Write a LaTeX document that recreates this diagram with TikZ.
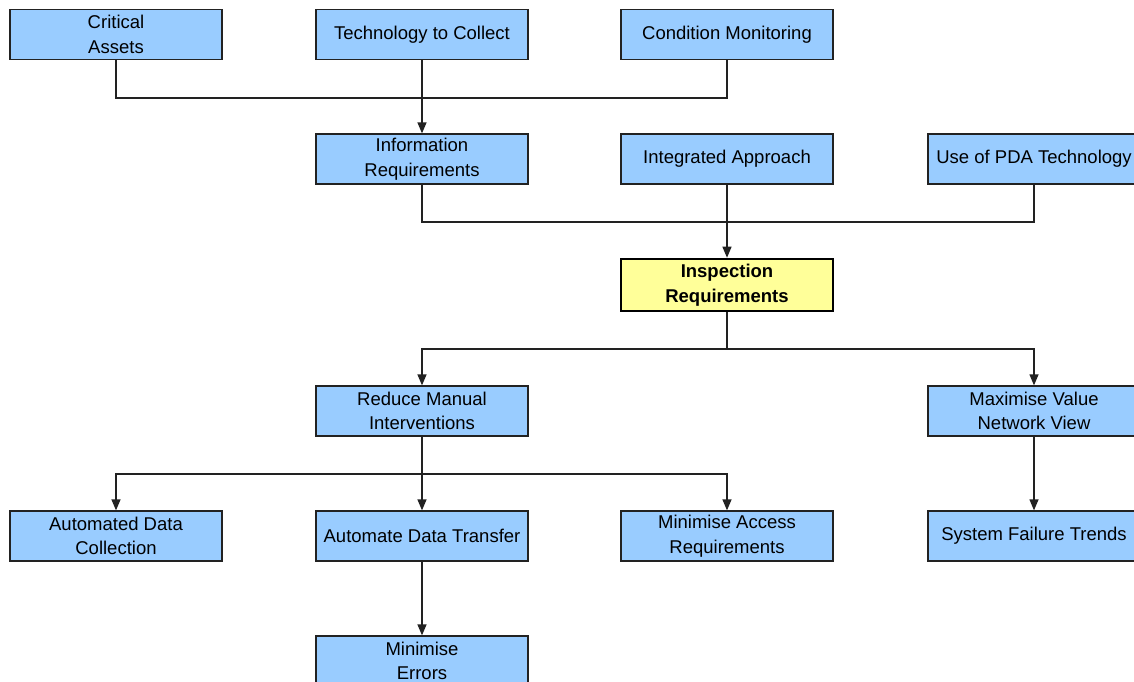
\documentclass[tikz,border=0pt]{standalone}
\usepackage{fontspec}
\setmainfont{Liberation Sans}
\usetikzlibrary{arrows.meta}
\definecolor{boxblue}{HTML}{99CCFF}
\definecolor{boxyellow}{HTML}{FFFF99}
\definecolor{edge}{HTML}{222222}
\begin{document}
\begin{tikzpicture}[x=1pt,y=-1pt,
  box/.style={draw=edge, line width=1.3pt, fill=boxblue, minimum width=212pt, minimum height=50pt,
    inner sep=0pt, align=center, font=\fontsize{18.5}{24.5}\selectfont},
  keybox/.style={box, fill=boxyellow, draw=black, line width=2.6pt, minimum height=52pt,
    font=\fontsize{18.5}{24.5}\selectfont\bfseries},
  conn/.style={draw=edge, line width=1.3pt},
  arr/.style={conn, -{Triangle[length=11pt,width=9pt]}}]
\useasboundingbox (0,0) rectangle (1134,681);
\clip (0,0) rectangle (1134,681);
\fill[white] (0,0) rectangle (1134,681);
% row 1
\node[box] (ca) at (116,34.5) {Critical\\Assets};
\node[box] (tc) at (422,34.5) {Technology to Collect};
\node[box] (cm) at (727,34.5) {Condition Monitoring};
% row 2
\node[box] (ir) at (422,159) {Information\\Requirements};
\node[box] (ia) at (727,159) {Integrated Approach};
\node[box] (pda) at (1034,159) {Use of PDA Technology};
% row 3
\node[keybox] (insp) at (727,285) {Inspection\\Requirements};
% row 4
\node[box] (rmi) at (422,411) {Reduce Manual\\Interventions};
\node[box] (mv) at (1034,411) {Maximise Value\\Network View};
% row 5
\node[box] (adc) at (116,536) {Automated Data\\Collection};
\node[box] (adt) at (422,536) {Automate Data Transfer};
\node[box] (mar) at (727,536) {Minimise Access\\Requirements};
\node[box] (sft) at (1034,536) {System Failure Trends};
% row 6
\node[box] (me) at (422,661) {Minimise\\Errors};
% junctions
\coordinate (j1) at (422,98);
\coordinate (j2) at (727,222);
\coordinate (j3) at (727,349);
\coordinate (j4) at (422,474);
% connectors
\draw[conn] (ca.south) |- (j1) -| (cm.south);
\draw[arr] (tc.south) -- (ir.north);
\draw[conn] (ir.south) |- (j2) -| (pda.south);
\draw[arr] (ia.south) -- (insp.north);
\draw[conn] (insp.south) -- (j3);
\draw[arr] (j3) -| (rmi.north);
\draw[arr] (j3) -| (mv.north);
\draw[conn] (rmi.south) -- (j4);
\draw[arr] (j4) -| (adc.north);
\draw[arr] (j4) -- (adt.north);
\draw[arr] (j4) -| (mar.north);
\draw[arr] (mv.south) -- (sft.north);
\draw[arr] (adt.south) -- (me.north);
\end{tikzpicture}
\end{document}
